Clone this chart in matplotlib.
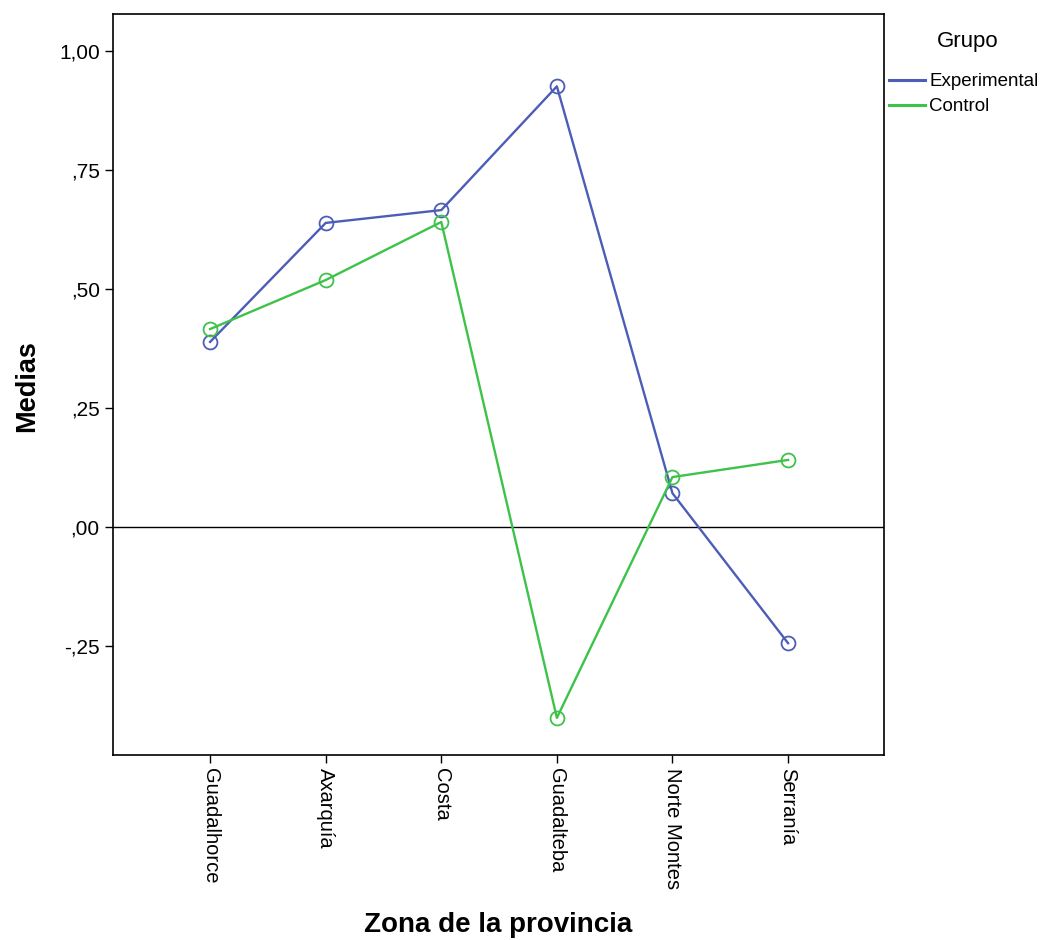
import matplotlib
matplotlib.use("Agg")
import matplotlib.pyplot as plt
from matplotlib.lines import Line2D

plt.rcParams['font.family'] = ['Liberation Sans', 'DejaVu Sans']

categories = ["Guadalhorce", "Axarquía", "Costa", "Guadalteba", "Norte Montes", "Serranía"]
experimental = [0.389, 0.639, 0.666, 0.926, 0.071, -0.244]
control = [0.416, 0.519, 0.641, -0.401, 0.105, 0.141]
series_names = ["Experimental", "Control"]
yticks = [-0.25, 0.0, 0.25, 0.5, 0.75, 1.0]
ytick_labels = ["-,25", ",00", ",25", ",50", ",75", "1,00"]

W, H = 1051, 940
fig = plt.figure(figsize=(W / 100, H / 100), dpi=100)
ax = fig.add_axes([113 / W, 1 - 755 / H, (884 - 113) / W, (755 - 14) / H])

x = list(range(len(categories)))
blue = "#4C5DB8"
green = "#3DC24A"
ax.plot(x, experimental, color=blue, lw=1.7, marker='o', mfc='none', mec=blue, ms=10, mew=1.3)
ax.plot(x, control, color=green, lw=1.7, marker='o', mfc='none', mec=green, ms=10, mew=1.3)
ax.axhline(0, color='black', lw=1.0, zorder=0)

ax.set_xlim(-0.84, 5.83)
ax.set_ylim(-0.479, 1.078)
ax.set_xticks(x)
ax.set_xticklabels(categories, rotation=-90, ha='center', va='top', fontsize=14.5)
ax.set_yticks(yticks)
ax.set_yticklabels(ytick_labels, fontsize=15)
ax.tick_params(direction='out', length=6, width=1, color='black')
for s in ax.spines.values():
    s.set_linewidth(1.2)

fig.text(498.5 / W, 1 - 925 / H, "Zona de la provincia", fontsize=20, fontweight='bold',
         ha='center', va='center')
fig.text(27 / W, 1 - 386 / H, "Medias", fontsize=19.5, fontweight='bold',
         ha='center', va='center', rotation=90)

fig.text(968 / W, 1 - 41 / H, "Grupo", fontsize=16, ha='center', va='center')
handles = [Line2D([], [], color=blue, lw=2.2), Line2D([], [], color=green, lw=2.2)]
fig.legend(handles, series_names, loc='upper left', bbox_to_anchor=(889 / W, 1 - 73 / H),
           frameon=False, fontsize=13.5, handlelength=1.9, handletextpad=0.25,
           borderaxespad=0, borderpad=0, labelspacing=0.42)

fig.savefig("out.png", dpi=100)
